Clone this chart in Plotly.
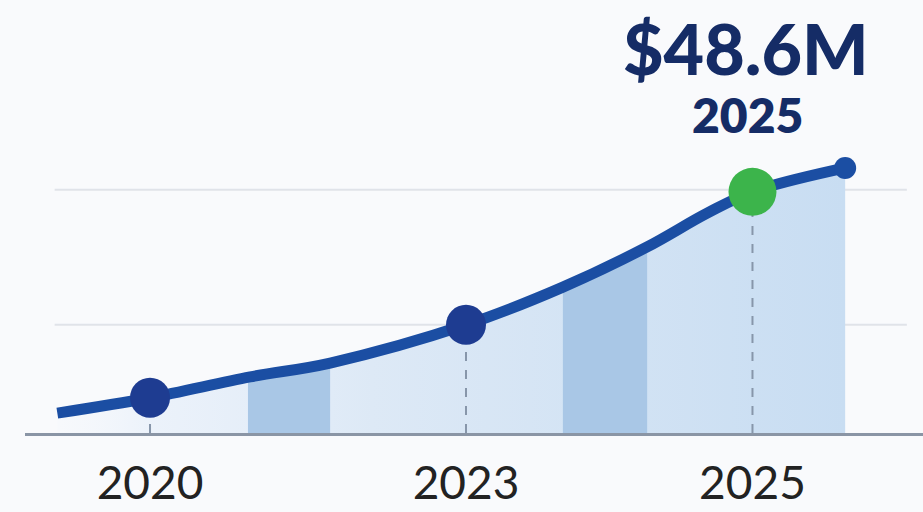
import plotly.graph_objects as go

# ---- data ----
# smooth growth curve: timeline position (label slots) and value in $M
curve_pos = [-0.88, 0.0, 0.95, 1.71, 3.0, 3.92, 4.72, 5.29, 5.72, 6.6]
curve_val = [4.0, 7.1, 11.3, 14.1, 21.8, 29.4, 37.5, 44.3, 48.6, 53.4]

# highlighted years
years = ["2020", "2023", "2025"]
year_pos = [0.0, 3.0, 5.72]
year_val = [7.1, 21.8, 48.6]

# darker shaded bands under the curve (start/end position, top values)
band_pos = [[0.93, 1.71], [3.92, 4.72]]
band_top = [[10.9, 13.9], [29.0, 36.9]]

grid_vals = [21.8, 49.0]
headline = "$48.6M"
headline_year = "2025"
y_floor = 0
y_ceiling = 87.25

LINE = "#1b4ea3"
NAVY_DOT = "#1e3c91"
GREEN = "#3cb44b"
TEXT_NAVY = "#152c66"

fig = go.Figure()

# light area under the curve
fig.add_trace(go.Scatter(
    x=curve_pos, y=curve_val, mode="none", line_shape="spline",
    fill="tozeroy",
    fillgradient=dict(type="horizontal",
                      colorscale=[[0, "rgba(240,245,252,0.2)"], [0.12, "rgba(232,240,250,0.8)"],
                                  [0.4, "#dde9f6"], [1, "#c8ddf2"]]),
    hoverinfo="skip", showlegend=False))

# darker bands
for (a, b), (t0, t1) in zip(band_pos, band_top):
    fig.add_trace(go.Scatter(
        x=[a, a, b, b], y=[y_floor, t0, t1, y_floor], mode="none",
        fill="toself", fillcolor="#a9c7e6", hoverinfo="skip", showlegend=False))

# dashed drop lines from the highlighted points
for p, v in zip(year_pos, year_val):
    fig.add_trace(go.Scatter(
        x=[p, p], y=[y_floor, v], mode="lines",
        line=dict(color="#8796aa", width=2, dash="dash"),
        hoverinfo="skip", showlegend=False))

# main curve
fig.add_trace(go.Scatter(
    x=curve_pos, y=curve_val, mode="lines", line_shape="spline",
    line=dict(color=LINE, width=11), showlegend=False))

# end dot
fig.add_trace(go.Scatter(
    x=[curve_pos[-1]], y=[curve_val[-1]], mode="markers",
    marker=dict(color=LINE, size=22, opacity=1, line=dict(width=0)), showlegend=False))

# highlighted year markers
fig.add_trace(go.Scatter(
    x=year_pos, y=year_val, mode="markers",
    marker=dict(color=[NAVY_DOT, NAVY_DOT, GREEN], size=[40, 40, 48],
                opacity=1, line=dict(width=0)),
    showlegend=False))

# headline annotations
fig.add_annotation(x=year_pos[2], y=year_val[2], text=headline,
                   showarrow=False, yshift=144, xshift=-6,
                   font=dict(family="Lato", size=70, color=TEXT_NAVY, weight=900))
fig.add_annotation(x=year_pos[2], y=year_val[2], text=headline_year,
                   showarrow=False, yshift=77, xshift=-5,
                   font=dict(family="Lato", size=48, color=TEXT_NAVY, weight=800))

# gridlines limited horizontally
for g in grid_vals:
    fig.add_shape(type="line", xref="paper", x0=0.033, x1=0.982, yref="y", y0=g, y1=g,
                  line=dict(color="#e0e3e9", width=2), layer="below")

fig.update_layout(
    width=923, height=512,
    margin=dict(l=25, r=0, t=0, b=79),
    paper_bgcolor="#f9fafc", plot_bgcolor="rgba(0,0,0,0)",
    xaxis=dict(range=[-1.187, 7.339], showgrid=False, zeroline=False,
               tickvals=year_pos, ticktext=years, ticks="",
               showline=True, linecolor="#8a95a5", linewidth=3,
               tickfont=dict(family="Lato", size=46, color="#222222"),
               ticklabelstandoff=8, automargin=False),
    yaxis=dict(range=[y_floor, y_ceiling], showgrid=False, zeroline=False,
               showticklabels=False, ticks="", automargin=False),
)

fig.write_html("out.html", config={"displayModeBar": False},
               post_script="document.body.style.margin='0';document.body.style.background='#f9fafc';")
